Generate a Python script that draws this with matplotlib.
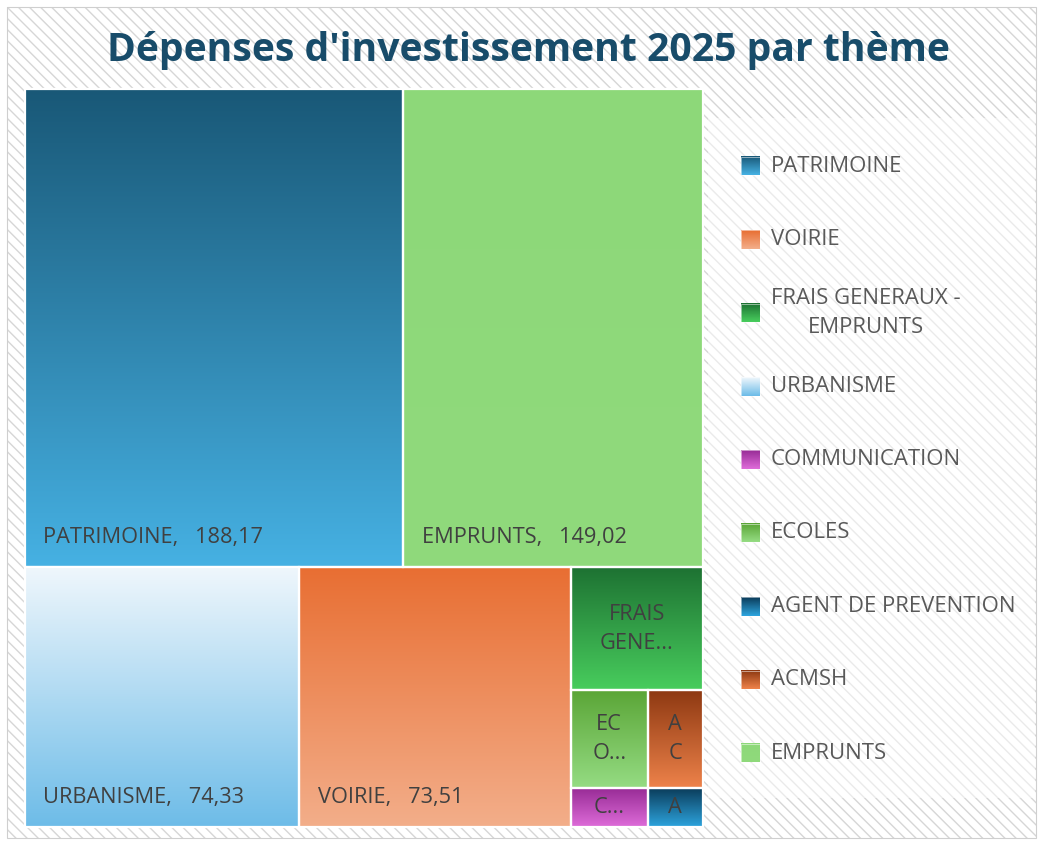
import numpy as np
import matplotlib
matplotlib.use("Agg")
import matplotlib.pyplot as plt
from matplotlib.patches import Rectangle
from matplotlib.colors import to_rgb

# ---------------- data ----------------
categories = ["PATRIMOINE", "VOIRIE", "FRAIS GENERAUX - EMPRUNTS", "URBANISME",
              "COMMUNICATION", "ECOLES", "AGENT DE PREVENTION", "ACMSH", "EMPRUNTS"]
values = [188.17, 73.51, 17.0, 74.33, 3.1, 7.9, 2.2, 5.6, 149.02]
legend_labels = ["PATRIMOINE", "VOIRIE", "FRAIS GENERAUX -\nEMPRUNTS", "URBANISME",
                 "COMMUNICATION", "ECOLES", "AGENT DE PREVENTION", "ACMSH", "EMPRUNTS"]
short_labels = {"FRAIS GENERAUX - EMPRUNTS": "FRAIS\nGENE...", "ECOLES": "EC\nO...",
                "ACMSH": "A\nC", "COMMUNICATION": "C...", "AGENT DE PREVENTION": "A"}
title = "Dépenses d'investissement 2025 par thème"

# gradient colours (top, bottom)
grad = {
    "PATRIMOINE": ("#195877", "#46b1e3"),
    "VOIRIE": ("#e86e32", "#f3ae8a"),
    "FRAIS GENERAUX - EMPRUNTS": ("#1d7132", "#48cd5d"),
    "URBANISME": ("#f0f7fc", "#6dbce8"),
    "COMMUNICATION": ("#982c96", "#de6cd9"),
    "ECOLES": ("#5aa536", "#95dc83"),
    "AGENT DE PREVENTION": ("#0b3c5a", "#2da4de"),
    "ACMSH": ("#8c3811", "#ee824a"),
    "EMPRUNTS": ("#8dd879", "#90da7c"),
}

FONT = "Open Sans"
LABEL_COLOR = "#404040"
LEGEND_COLOR = "#595959"


# ---------------- squarify layout ----------------
def _layoutrow(sizes, x, y, dx, dy):
    width = sum(sizes) / dy
    rects = []
    for s in sizes:
        rects.append((x, y, width, s / width))
        y += s / width
    return rects


def _layoutcol(sizes, x, y, dx, dy):
    height = sum(sizes) / dx
    rects = []
    for s in sizes:
        rects.append((x, y, s / height, height))
        x += s / height
    return rects


def _layout(sizes, x, y, dx, dy):
    return _layoutrow(sizes, x, y, dx, dy) if dx >= dy else _layoutcol(sizes, x, y, dx, dy)


def _leftover(sizes, x, y, dx, dy):
    if dx >= dy:
        w = sum(sizes) / dy
        return x + w, y, dx - w, dy
    h = sum(sizes) / dx
    return x, y + h, dx, dy - h


def _worst(sizes, x, y, dx, dy):
    return max(max(r[2] / r[3], r[3] / r[2]) for r in _layout(sizes, x, y, dx, dy))


def squarify(sizes, x, y, dx, dy):
    if len(sizes) == 0:
        return []
    if len(sizes) == 1:
        return _layout(sizes, x, y, dx, dy)
    i = 1
    while i < len(sizes) and _worst(sizes[:i], x, y, dx, dy) >= _worst(sizes[:i + 1], x, y, dx, dy):
        i += 1
    cur, rem = sizes[:i], sizes[i:]
    lx, ly, ldx, ldy = _leftover(cur, x, y, dx, dy)
    return _layout(cur, x, y, dx, dy) + squarify(rem, lx, ly, ldx, ldy)


def gradient_img(top, bottom, n=256):
    t = np.linspace(0, 1, n)[:, None]
    a, b = np.array(to_rgb(top)), np.array(to_rgb(bottom))
    img = a[None, None, :] * (1 - t[:, :, None]) + b[None, None, :] * t[:, :, None]
    return img


def fmt(v):
    return f"{v:.2f}".replace(".", ",")


# ---------------- figure ----------------
W, H = 1040, 841
fig = plt.figure(figsize=(W / 100, H / 100), dpi=100)
fig.patch.set_facecolor("white")
plt.rcParams["hatch.linewidth"] = 1.0

bg = fig.add_axes([0, 0, 1, 1])
bg.set_axis_off()
# hatched chart area
bg.add_patch(Rectangle((7, 7), 1029, 831, facecolor="white", edgecolor="#d6d6d6",
                       hatch="\\\\\\", linewidth=0, zorder=1))
bg.add_patch(Rectangle((7, 7), 1029, 831, facecolor="none", edgecolor="#cfcfcf",
                       linewidth=0.8, zorder=2))
# legend area (lighter)
bg.add_patch(Rectangle((708, 118), 327, 680, facecolor="white", edgecolor="none",
                       alpha=0.5, zorder=2))

bg.text(528, 50, title, ha="center", va="center", fontsize=28.2, fontweight="bold",
        color="#184c6a", family=FONT, zorder=5)

# legend
leg_y0, leg_step = 166, 73.4
for i, (cat, lab) in enumerate(zip(categories, legend_labels)):
    yc = leg_y0 + i * leg_step
    top, bot = grad[cat]
    bg.imshow(gradient_img(top, bot, 32), extent=(741, 759.5, yc + 9.3, yc - 9.3),
              aspect="auto", zorder=5, interpolation="bilinear")
    bg.add_patch(Rectangle((741, yc - 9.3), 18.5, 18.6, facecolor="none",
                           edgecolor=(1, 1, 1, 0.6), linewidth=0.6, zorder=6))
    bg.text(771, yc, lab, ha="left", va="center", fontsize=15.9, color=LEGEND_COLOR,
            family=FONT, multialignment="center", linespacing=1.5, zorder=6)

bg.set_xlim(0, W)
bg.set_ylim(H, 0)

# ---------------- treemap ----------------
left, right, top_px, bottom_px = 24.7, 702.7, 89, 827
ax = fig.add_axes([left / W, 1 - bottom_px / H, (right - left) / W, (bottom_px - top_px) / H])
ax.set_axis_off()
dx, dy = right - left, bottom_px - top_px

order = sorted(range(len(values)), key=lambda k: -values[k])
sorted_vals = [values[k] for k in order]
total = sum(sorted_vals)
norm = [v * dx * dy / total for v in sorted_vals]
rects = squarify(norm, 0, 0, dx, dy)

for k, (x, y, w, h) in zip(order, rects):
    cat = categories[k]
    top, bot = grad[cat]
    ax.imshow(gradient_img(top, bot), extent=(x, x + w, y + h, y), aspect="auto",
              zorder=1, interpolation="bilinear")
    ax.add_patch(Rectangle((x, y), w, h, facecolor="none", edgecolor="white",
                           linewidth=1.6, zorder=2, clip_on=False))
    if cat in short_labels:
        ax.text(x + w / 2, y + h / 2, short_labels[cat], ha="center", va="center",
                fontsize=15.7, color=LABEL_COLOR, family=FONT, linespacing=1.5, zorder=3)
    else:
        ax.annotate(f"{cat},   {fmt(values[k])}", xy=(x, y + h), xytext=(13.4, 21),
                    textcoords="offset points", ha="left", va="center", fontsize=15.7,
                    color=LABEL_COLOR, family=FONT, zorder=3)

ax.set_xlim(0, dx)
ax.set_ylim(dy, 0)

fig.savefig("out.png", dpi=100, facecolor="white")
